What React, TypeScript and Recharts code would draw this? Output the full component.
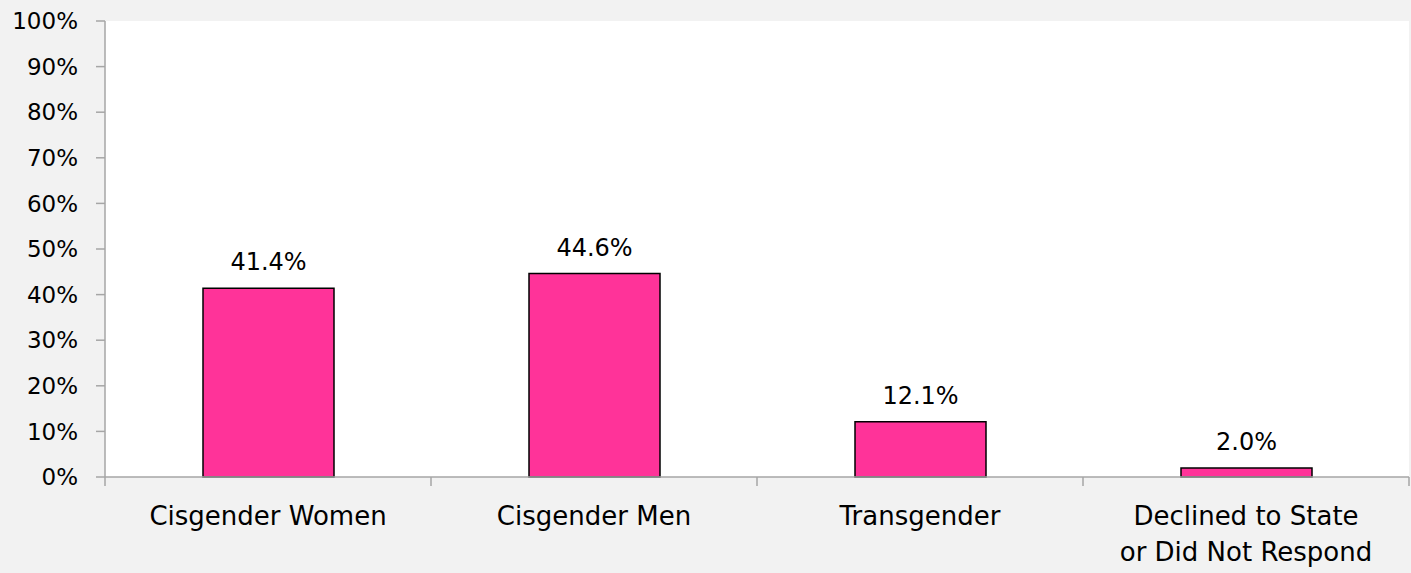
import { BarChart, Bar, XAxis, YAxis, CartesianGrid, LabelList } from 'recharts';

const categories = ['Cisgender Women', 'Cisgender Men', 'Transgender', 'Declined to State|or Did Not Respond'];
const shares = [0.414, 0.446, 0.121, 0.02];
const yTicks = [0, 0.1, 0.2, 0.3, 0.4, 0.5, 0.6, 0.7, 0.8, 0.9, 1];

const data = categories.map((name, i) => ({ name, share: shares[i] }));

const WIDTH = 1411;
const HEIGHT = 573;
const Y_AXIS_W = 105;
const RIGHT = 2;
const HALF_BAND = (WIDTH - Y_AXIS_W - RIGHT) / categories.length / 2;

const FONT = '"Century Gothic", "DejaVu Sans", sans-serif';
const AXIS_GREY = '#a6a6a6';

// label plus the small tick marks between categories
function CategoryTick(props: any) {
    const { x, y, payload, index } = props;
    const lines = String(payload.value).split('|');
    const edges = index === categories.length - 1 ? [x - HALF_BAND, x + HALF_BAND] : [x - HALF_BAND];
    return (
        <g>
            {edges.map((ex, i) => (
                <line key={i} x1={ex} x2={ex} y1={y} y2={y + 9} stroke={AXIS_GREY} strokeWidth={1.5} />
            ))}
            <text x={x} y={y} textAnchor="middle" fill="#000" fontSize={26} fontFamily={FONT}>
                {lines.map((line, i) => (
                    <tspan key={i} x={x} dy={i === 0 ? 48 : 36}>{line}</tspan>
                ))}
            </text>
        </g>
    );
}

export default function App() {
    return (
        <div style={{ width: WIDTH, height: HEIGHT, background: '#f2f2f2' }}>
            <style>{'body{margin:0}'}</style>
            <BarChart
                width={WIDTH}
                height={HEIGHT}
                data={data}
                margin={{ top: 21, right: RIGHT, left: 0, bottom: 0 }}
            >
                <CartesianGrid horizontal={false} vertical={false} fill="#ffffff" />
                <XAxis
                    dataKey="name"
                    axisLine={{ stroke: AXIS_GREY, strokeWidth: 1.5 }}
                    tickLine={false}
                    tickSize={0}
                    tickMargin={0}
                    height={96}
                    interval={0}
                    tick={<CategoryTick />}
                />
                <YAxis
                    width={Y_AXIS_W}
                    domain={[0, 1]}
                    ticks={yTicks}
                    interval={0}
                    tickFormatter={(v: number) => `${Math.round(v * 100)}%`}
                    tickSize={9}
                    tickMargin={18}
                    axisLine={{ stroke: AXIS_GREY, strokeWidth: 1.5 }}
                    tickLine={{ stroke: AXIS_GREY, strokeWidth: 1.5 }}
                    tick={{ fill: '#000', fontSize: 23, fontFamily: FONT }}
                />
                <Bar
                    dataKey="share"
                    fill="#ff3399"
                    stroke="#000"
                    strokeWidth={1.5}
                    barSize={131}
                    isAnimationActive={false}
                >
                    <LabelList
                        dataKey="share"
                        position="top"
                        offset={18}
                        formatter={(v: any) => `${(Number(v) * 100).toFixed(1)}%`}
                        style={{ fill: '#000', fontSize: 24, fontFamily: FONT }}
                    />
                </Bar>
            </BarChart>
        </div>
    );
}
